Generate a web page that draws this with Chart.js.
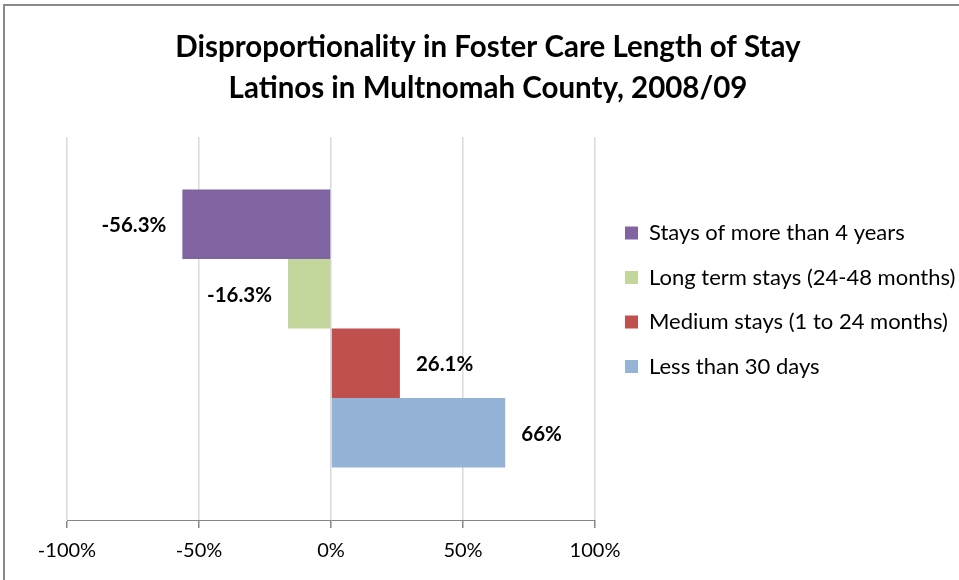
<!DOCTYPE html>
<html>
<head>
<meta charset="utf-8">
<script src="https://cdn.jsdelivr.net/npm/chart.js@4"></script>
<style>
    html, body { margin: 0; padding: 0; background: #fff; }
    #wrap { width: 959px; height: 580px; }
</style>
</head>
<body>
<div id="wrap"><canvas id="stayChart"></canvas></div>
<script>
const CATEGORIES = ['Latinos'];
const SERIES_LABELS = [
    'Stays of more than 4 years',
    'Long term stays (24-48 months)',
    'Medium stays (1 to 24 months)',
    'Less than 30 days',
];
const SERIES_VALUES = [-56.3, -16.3, 26.1, 66];
const X_TICKS = [-100, -50, 0, 50, 100];
const TITLE_LINES = [
    'Disproportionality in Foster Care Length of Stay',
    'Latinos in Multnomah County, 2008/09',
];

const COLORS = ['#8064A2', '#C3D69B', '#C0504D', '#95B3D7'];
const FONT = 'Lato, "Open Sans", sans-serif';

// frame line of the original chart object (top and left edges only are visible)
const framePlugin = {
    id: 'frame',
    beforeDraw(chart) {
        const { ctx, width, height } = chart;
        ctx.save();
        ctx.fillStyle = '#fff';
        ctx.fillRect(0, 0, width, height);
        ctx.strokeStyle = '#8a8a8a';
        ctx.lineWidth = 2;
        ctx.beginPath();
        ctx.moveTo(4, height);
        ctx.lineTo(4, 5);
        ctx.lineTo(width, 5);
        ctx.stroke();
        ctx.restore();
    },
};

// bold value labels beside the end of each bar
const valueLabels = {
    id: 'valueLabels',
    afterDatasetsDraw(chart) {
        const { ctx } = chart;
        ctx.save();
        ctx.font = `bold 20.5px ${FONT}`;
        ctx.fillStyle = '#000';
        ctx.textBaseline = 'middle';
        chart.data.datasets.forEach((ds, i) => {
            chart.getDatasetMeta(i).data.forEach((bar, j) => {
                const v = ds.data[j];
                const neg = v < 0;
                ctx.textAlign = neg ? 'right' : 'left';
                ctx.fillText(`${v}%`, bar.x + (neg ? -16 : 16), bar.y + 1.5);
            });
        });
        ctx.restore();
    },
};

const datasets = SERIES_LABELS.map((label, i) => ({
    label,
    data: [SERIES_VALUES[i]],
    backgroundColor: COLORS[i],
    borderWidth: 0,
    categoryPercentage: 0.726,
    barPercentage: 1,
}));

new Chart(document.getElementById('stayChart'), {
    type: 'bar',
    data: { labels: CATEGORIES, datasets },
    plugins: [framePlugin, valueLabels],
    options: {
        indexAxis: 'y',
        responsive: true,
        maintainAspectRatio: false,
        animation: false,
        layout: { padding: { top: 25.5, bottom: 6, left: 17, right: 0 } },
        scales: {
            x: {
                min: -100,
                max: 100,
                afterBuildTicks: s => { s.ticks = X_TICKS.map(value => ({ value })); },
                // keep the plot between x=67 and x=595, leaving room for the legend
                afterFit: s => { s.paddingLeft = 67; s.paddingRight = 364; },
                ticks: {
                    callback: v => `${v}%`,
                    color: '#000',
                    font: { family: FONT, size: 20 },
                    padding: 11,
                },
                grid: { color: '#D9D9D9', lineWidth: 1.5, tickColor: '#868686', tickLength: 8 },
                border: { color: '#868686' },
            },
            // invisible category axis, used only as a small gap before the legend
            y: {
                position: 'right',
                ticks: { display: false },
                grid: { display: false },
                border: { display: false },
                afterFit: s => { s.width = 7.5; },
            },
        },
        plugins: {
            title: {
                display: true,
                text: TITLE_LINES,
                color: '#000',
                font: { family: FONT, size: 29.5, weight: 'bold', lineHeight: '41px' },
                padding: { top: 1, bottom: 28.5 },
            },
            legend: {
                position: 'right',
                maxWidth: 356.5,
                labels: {
                    boxWidth: 13,
                    boxHeight: 13,
                    padding: 22.5,
                    color: '#000',
                    font: { family: FONT, size: 22 },
                },
            },
            tooltip: { enabled: false },
        },
    },
});
</script>
</body>
</html>
